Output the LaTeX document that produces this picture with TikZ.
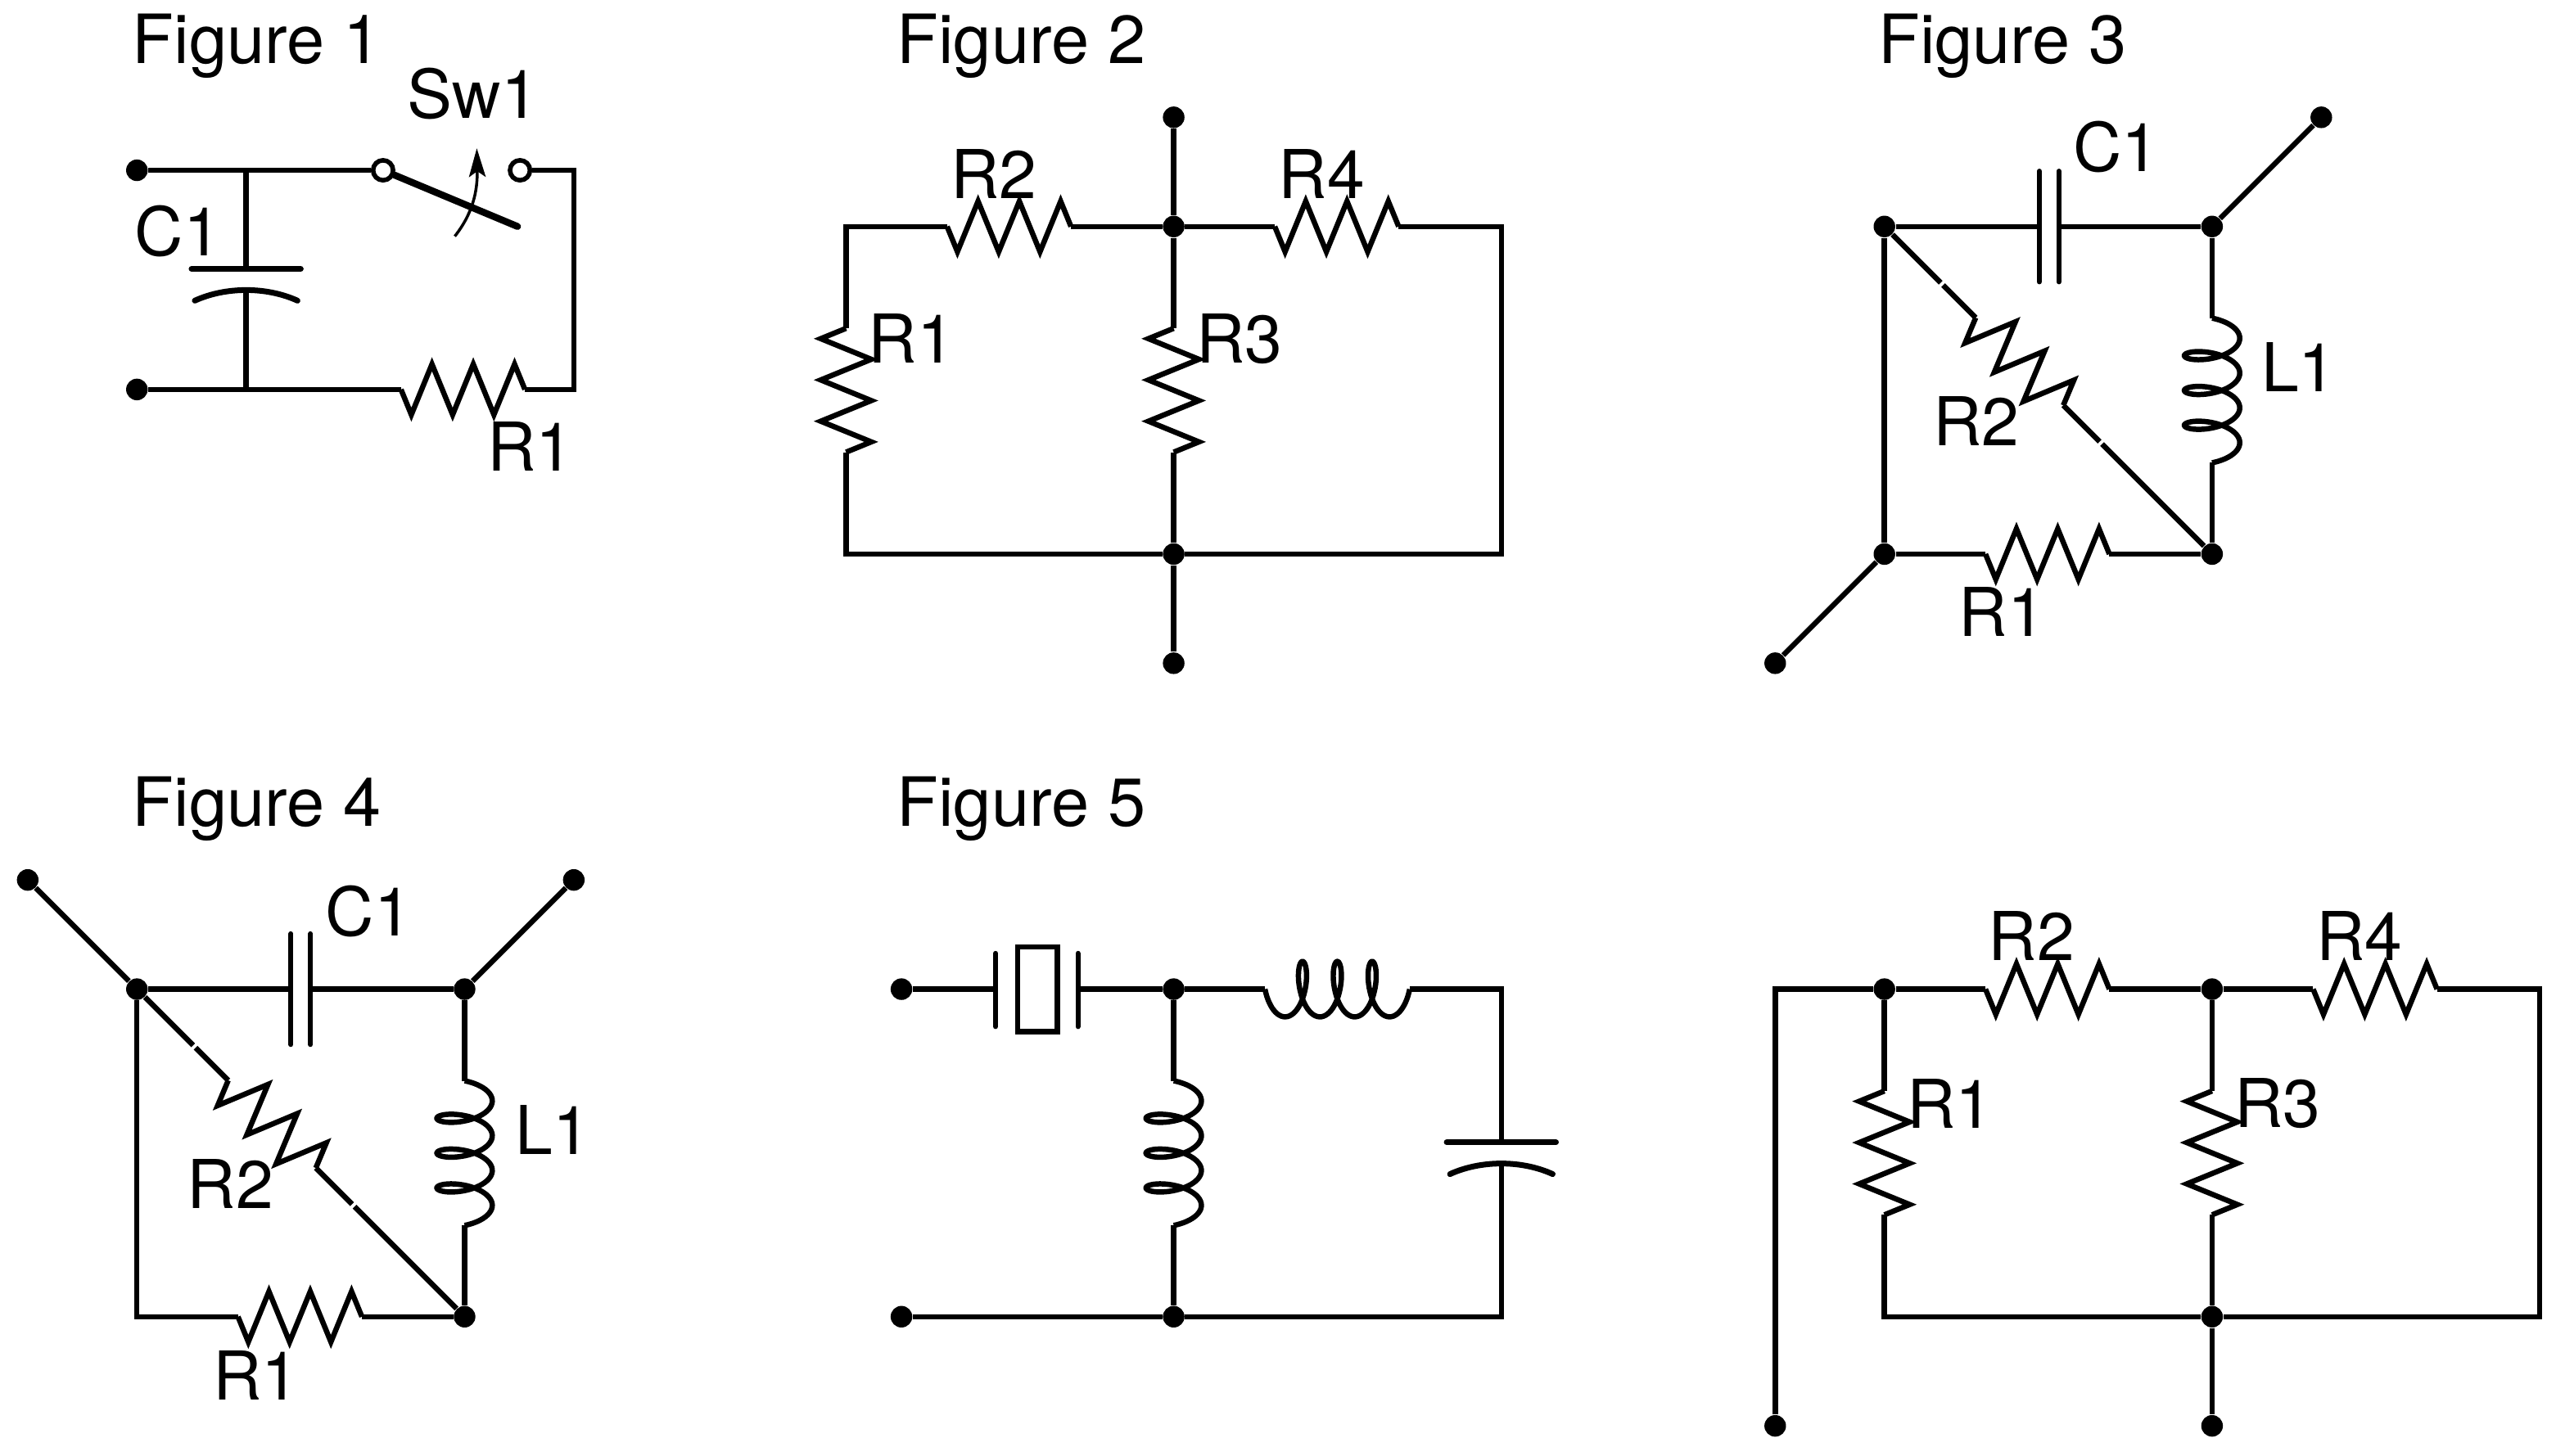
\documentclass[tikz,border=0pt]{standalone}
\usepackage{fontspec}
\setmainfont{TeX Gyre Heros}
\usetikzlibrary{arrows.meta}
\tikzset{
  x=0.01cm,y=-0.01cm,
  wire/.style={line width=1.85pt,line join=miter,line cap=butt},
  plate/.style={line width=2pt,line cap=round},
  thinplate/.style={line width=1.7pt,line cap=round},
  dot/.style={circle,fill=black,draw=none,minimum size=0.265cm,inner sep=0pt},
  hollow/.style={circle,draw=black,fill=white,line width=1.6pt,minimum size=0.245cm,inner sep=0pt},
  lbl/.style={inner sep=0pt,xshift=0.025cm,yshift=-0.015cm,font=\fontsize{23.5}{26}\selectfont},
  title/.style={inner sep=0pt,anchor=base west,font=\fontsize{23.7}{26}\selectfont},
  res/.pic={
    \coordinate (-a) at (0,0);
    \coordinate (-b) at (152,0);
    \draw[wire] (0,0) -- (12.67,31) -- (38,-31) -- (63.33,31) -- (88.67,-31) -- (114,31) -- (139.33,-31) -- (152,0);
  },
  ind/.pic={
    \coordinate (-a) at (0,0);
    \coordinate (-b) at (177.5,0);
    \draw[wire] plot[domain=1.5708:23.5619,samples=181,smooth,variable=\t] ({6.8*\t-14*sin(\t r)+3.32},{-34*cos(\t r)});
  },
  ccap/.pic={
    \coordinate (-a) at (0,0);
    \coordinate (-b) at (26,0);
    \draw[plate] (0,-67) -- (0,67);
    \draw[plate] (39,-63) .. controls (21.67,-25) and (21.67,25) .. (39,63);
  },
  pcap/.pic={
    \coordinate (-a) at (-12,0);
    \coordinate (-b) at (12,0);
    \draw[thinplate] (-12,-68) -- (-12,68);
    \draw[thinplate] (12,-68) -- (12,68);
  },
  xtal/.pic={
    \coordinate (-a) at (-50.5,0);
    \coordinate (-b) at (50.5,0);
    \draw[thinplate] (-50.5,-44) -- (-50.5,46);
    \draw[thinplate] (50.5,-44) -- (50.5,46);
    \draw[wire] (-23.5,-52) rectangle (25.5,52);
  },
}
\begin{document}
\begin{tikzpicture}
\useasboundingbox (0,0) rectangle (3136,1786);
% titles
\node[title] (t1) at (162,78) {Figure 1};
\node[title] (t2) at (1100,78) {Figure 2};
\node[title] (t3) at (2304,78) {Figure 3};
\node[title] (t4) at (162,1014) {Figure 4};
\node[title] (t5) at (1100,1014) {Figure 5};

% ---------- Figure 1
\node[dot] (an1) at (168,209) {};
\node[dot] (an2) at (168,478) {};
\coordinate (aj1) at (302,209);
\coordinate (aj2) at (302,478);
\coordinate (ac1) at (704,209);
\coordinate (ac2) at (704,478);
\node[hollow] (as1) at (470,209) {};
\node[hollow] (as2) at (638,209) {};
\coordinate (aarm) at (635,278);
\pic[rotate=-90] (ac) at (302,330) {ccap};
\pic (ar) at (492,478) {res};
\draw[wire] (an1) -- (aj1) -- (as1);
\draw[wire] (as2) -- (ac1) -- (ac2) -- (ar-b);
\draw[wire] (an2) -- (aj2) -- (ar-a);
\draw[wire] (aj1) -- (ac-a);
\draw[wire] (ac-b) -- (aj2);
\draw[line width=2.4pt,line cap=round] (as1) -- (aarm);
\coordinate (aaf) at (558,290);
\coordinate (aat) at (585,182);
\draw[line width=1pt,-{Stealth[length=10pt,width=5.8pt,inset=2pt]}] (aaf) .. controls (580,262) and (586,235) .. (aat);
\node[lbl] (asw) at (578,114) {Sw1};
\node[lbl] (ac1l) at (216,282) {C1};
\node[lbl] (ar1l) at (648,546) {R1};

% ---------- Figure 2
\node[dot] (bt) at (1440,144) {};
\node[dot] (bj) at (1440,278) {};
\node[dot] (bk) at (1440,680) {};
\node[dot] (bb) at (1440,814) {};
\coordinate (bc1) at (1038,278);
\coordinate (bc2) at (1038,680);
\coordinate (bc3) at (1842,278);
\coordinate (bc4) at (1842,680);
\pic (br2) at (1162,278) {res};
\pic (br4) at (1564,278) {res};
\pic[rotate=-90] (br1) at (1038,403) {res};
\pic[rotate=-90] (br3) at (1440,403) {res};
\draw[wire] (bt) -- (bj);
\draw[wire] (bj) -- (br3-a);
\draw[wire] (br3-b) -- (bk);
\draw[wire] (bk) -- (bb);
\draw[wire] (bj) -- (br2-b);
\draw[wire] (br2-a) -- (bc1) -- (br1-a);
\draw[wire] (br1-b) -- (bc2) -- (bk);
\draw[wire] (bj) -- (br4-a);
\draw[wire] (br4-b) -- (bc3) -- (bc4) -- (bk);
\node[lbl] at (1217,212) (bl2) {R2};
\node[lbl] at (1619,212) (bl4) {R4};
\node[lbl] at (1116,414) (bl1) {R1};
\node[lbl] at (1518,414) (bl3) {R3};

% ---------- Figure 3
\node[dot] (ca) at (2312,278) {};
\node[dot] (cb) at (2714,278) {};
\node[dot] (cc) at (2312,680) {};
\node[dot] (cd) at (2714,680) {};
\node[dot] (ctr) at (2848,144) {};
\node[dot] (cbl) at (2178,814) {};
\pic (ccp) at (2514,278) {pcap};
\pic (cr1) at (2436,680) {res};
\pic[rotate=90] (cl1) at (2714,568) {ind};
\pic[rotate=-45] (cr2) at (2424,390) {res};
\coordinate (cg1) at (2381,347);
\coordinate (cg2) at (2384,350);
\coordinate (cg3) at (2576,542);
\coordinate (cg4) at (2579,545);
\draw[wire] (ca) -- (ccp-a);
\draw[wire] (ccp-b) -- (cb);
\draw[wire] (cb) -- (ctr);
\draw[wire] (cc) -- (cbl);
\draw[wire] (ca) -- (cc);
\draw[wire] (cc) -- (cr1-a);
\draw[wire] (cr1-b) -- (cd);
\draw[wire] (cb) -- (cl1-b);
\draw[wire] (cl1-a) -- (cd);
\draw[wire] (ca) -- (cg1);
\draw[wire] (cg2) -- (cr2-a);
\draw[wire] (cr2-b) -- (cg3);
\draw[wire] (cg4) -- (cd);
\node[lbl] at (2594,179) (cl1l) {C1};
\node[lbl] at (2818,449) (cl2l) {L1};
\node[lbl] at (2422,515) (cl3l) {R2};
\node[lbl] at (2454,749) (cl4l) {R1};

% ---------- Figure 4
\node[dot] (da) at (168,1214) {};
\node[dot] (db) at (570,1214) {};
\coordinate (dc) at (168,1616);
\node[dot] (dd) at (570,1616) {};
\node[dot] (dtl) at (34,1080) {};
\node[dot] (dtr) at (704,1080) {};
\pic (dcp) at (369,1214) {pcap};
\pic (dr1) at (292,1616) {res};
\pic[rotate=90] (dl1) at (570,1504) {ind};
\pic[rotate=-45] (dr2) at (280,1326) {res};
\coordinate (dg1) at (237,1283);
\coordinate (dg2) at (240,1286);
\coordinate (dg3) at (432,1478);
\coordinate (dg4) at (435,1481);
\draw[wire] (da) -- (dtl);
\draw[wire] (db) -- (dtr);
\draw[wire] (da) -- (dcp-a);
\draw[wire] (dcp-b) -- (db);
\draw[wire] (da) -- (dc) -- (dr1-a);
\draw[wire] (dr1-b) -- (dd);
\draw[wire] (db) -- (dl1-b);
\draw[wire] (dl1-a) -- (dd);
\draw[wire] (da) -- (dg1);
\draw[wire] (dg2) -- (dr2-a);
\draw[wire] (dr2-b) -- (dg3);
\draw[wire] (dg4) -- (dd);
\node[lbl] at (450,1117) (dl1l) {C1};
\node[lbl] at (676,1385) (dl2l) {L1};
\node[lbl] at (280,1451) (dl3l) {R2};
\node[lbl] at (312,1687) (dl4l) {R1};

% ---------- Figure 5
\node[dot] (en1) at (1106,1214) {};
\node[dot] (en2) at (1106,1616) {};
\node[dot] (ej1) at (1440,1214) {};
\node[dot] (ej2) at (1440,1616) {};
\coordinate (ec1) at (1842,1214);
\coordinate (ec2) at (1842,1616);
\pic (ex) at (1272,1214) {xtal};
\pic (el1) at (1552,1214) {ind};
\pic[rotate=90] (el2) at (1440,1504) {ind};
\pic[rotate=-90] (ecp) at (1842,1402) {ccap};
\draw[wire] (en1) -- (ex-a);
\draw[wire] (ex-b) -- (ej1);
\draw[wire] (ej1) -- (el1-a);
\draw[wire] (el1-b) -- (ec1) -- (ecp-a);
\draw[wire] (ecp-b) -- (ec2) -- (ej2);
\draw[wire] (en2) -- (ej2);
\draw[wire] (ej1) -- (el2-b);
\draw[wire] (el2-a) -- (ej2);

% ---------- Unlabelled circuit
\node[dot] (fa) at (2312,1214) {};
\node[dot] (fb) at (2714,1214) {};
\node[dot] (fk) at (2714,1616) {};
\node[dot] (fe) at (2714,1750) {};
\node[dot] (fl) at (2178,1750) {};
\coordinate (fc1) at (2178,1214);
\coordinate (fc2) at (2312,1616);
\coordinate (fc3) at (3116,1214);
\coordinate (fc4) at (3116,1616);
\pic (fr2) at (2436,1214) {res};
\pic (fr4) at (2838,1214) {res};
\pic[rotate=-90] (fr1) at (2312,1339) {res};
\pic[rotate=-90] (fr3) at (2714,1339) {res};
\draw[wire] (fl) -- (fc1) -- (fa);
\draw[wire] (fa) -- (fr2-a);
\draw[wire] (fr2-b) -- (fb);
\draw[wire] (fb) -- (fr4-a);
\draw[wire] (fr4-b) -- (fc3) -- (fc4) -- (fk);
\draw[wire] (fa) -- (fr1-a);
\draw[wire] (fr1-b) -- (fc2) -- (fk);
\draw[wire] (fb) -- (fr3-a);
\draw[wire] (fr3-b) -- (fk);
\draw[wire] (fk) -- (fe);
\node[lbl] at (2490,1147) (fl2) {R2};
\node[lbl] at (2892,1147) (fl4) {R4};
\node[lbl] at (2390,1353) (fl1) {R1};
\node[lbl] at (2792,1353) (fl3) {R3};
\end{tikzpicture}
\end{document}
